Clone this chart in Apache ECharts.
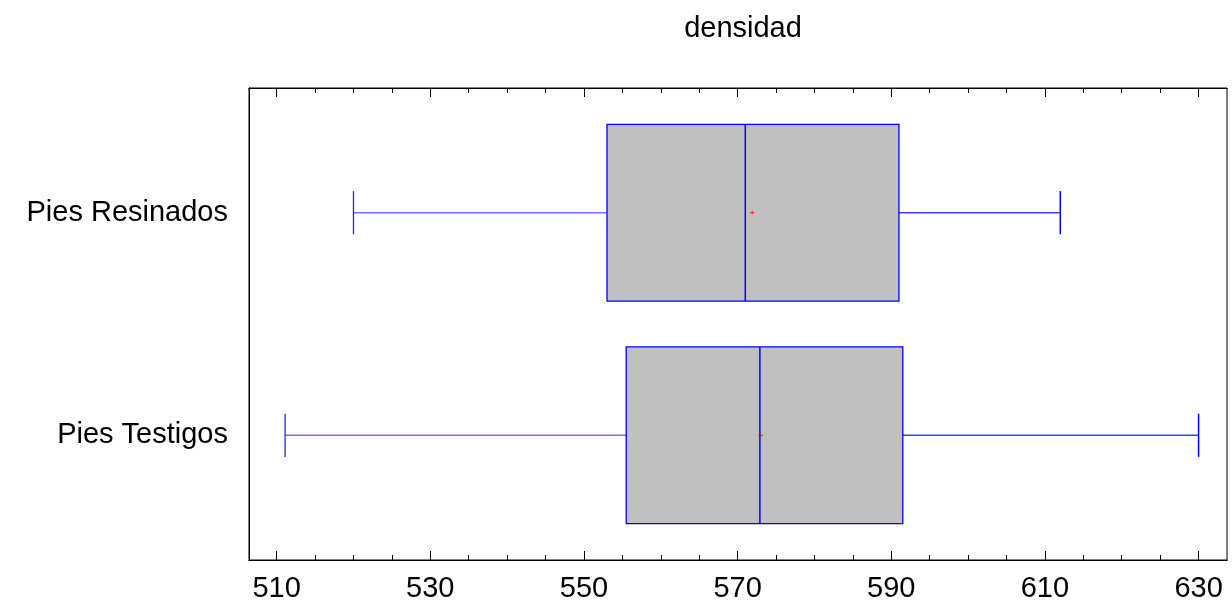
<!DOCTYPE html>
<html>
<head>
<meta charset="utf-8">
<script src="https://cdn.jsdelivr.net/npm/echarts@6/dist/echarts.min.js"></script>
<style>
  html, body { margin: 0; padding: 0; background: #fff; }
  #chart { width: 1232px; height: 604px; }
</style>
</head>
<body>
<div id="chart"></div>
<script>
const categories = ['Pies Resinados', 'Pies Testigos']
const minVals = [520, 511.1]
const q1Vals = [553, 555.5]
const medianVals = [571, 572.9]
const q3Vals = [591, 591.5]
const maxVals = [612, 630]
const meanVals = [571.9, 573]
const majorTicks = [510, 530, 550, 570, 590, 610, 630]
const minorTicks = []
for (let v = 510; v <= 630; v += 5) minorTicks.push(v)

const boxData = categories.map((c, i) => [i, minVals[i], q1Vals[i], medianVals[i], q3Vals[i], maxVals[i], meanVals[i]])

const font = 'Liberation Sans, Arial, sans-serif'

function renderBox(params, api) {
    const idx = api.value(0)
    const lo = api.coord([api.value(1), idx])
    const q1 = api.coord([api.value(2), idx])
    const med = api.coord([api.value(3), idx])
    const q3 = api.coord([api.value(4), idx])
    const hi = api.coord([api.value(5), idx])
    const mean = api.coord([api.value(6), idx])
    const unit = api.size([0, 1])[1]
    const halfBox = unit * 0.397
    const halfCap = unit * 0.097
    const y = lo[1]
    const blue = '#0000ff'
    return {
        type: 'group',
        children: [
            // whiskers
            { type: 'line', shape: { x1: lo[0], y1: y, x2: q1[0], y2: y }, style: { stroke: blue, lineWidth: 1.6, opacity: 0.55 } },
            { type: 'line', shape: { x1: q3[0], y1: y, x2: hi[0], y2: y }, style: { stroke: blue, lineWidth: 1.6, opacity: 0.75 } },
            { type: 'line', shape: { x1: lo[0], y1: y - halfCap, x2: lo[0], y2: y + halfCap }, style: { stroke: blue, lineWidth: 1.3, opacity: 0.85 } },
            { type: 'line', shape: { x1: hi[0], y1: y - halfCap, x2: hi[0], y2: y + halfCap }, style: { stroke: blue, lineWidth: 1.5 } },
            // box + median
            { type: 'rect', shape: { x: q1[0], y: y - halfBox, width: q3[0] - q1[0], height: halfBox * 2 }, style: { fill: '#c0c0c0', stroke: blue, lineWidth: 1.3, opacity: 1 } },
            { type: 'line', shape: { x1: med[0], y1: y - halfBox, x2: med[0], y2: y + halfBox }, style: { stroke: blue, lineWidth: 1.5 } },
            // mean marker
            { type: 'line', shape: { x1: mean[0] - 2.5, y1: y, x2: mean[0] + 2.5, y2: y }, style: { stroke: '#ff0000', lineWidth: 1, opacity: 0.7 } },
            { type: 'line', shape: { x1: mean[0], y1: y - 2, x2: mean[0], y2: y + 2 }, style: { stroke: '#ff0000', lineWidth: 1, opacity: 0.7 } }
        ]
    }
}

const xMin = 506.4
const xMax = 633.7

function xAxisDef(pos, ticks, len, labels) {
    return {
        type: 'value',
        position: pos,
        min: xMin,
        max: xMax,
        axisLine: { show: true, onZero: false, lineStyle: { color: '#000', width: 1 } },
        axisTick: { show: true, inside: true, length: len, customValues: ticks, lineStyle: { color: '#000', width: 1 } },
        axisLabel: labels ? { show: true, customValues: majorTicks, color: '#000', fontSize: 29, fontFamily: font, margin: 14 } : { show: false },
        splitLine: { show: false }
    }
}

const chart = echarts.init(document.getElementById('chart'))
chart.setOption({
    backgroundColor: '#fff',
    animation: false,
    title: {
        text: 'densidad',
        left: 738,
        textAlign: 'center',
        top: 9,
        textStyle: { fontSize: 29, fontWeight: 'normal', color: '#000', fontFamily: font }
    },
    grid: { left: 249, right: 5, top: 88, bottom: 44, show: true, borderColor: '#000', borderWidth: 1, backgroundColor: 'transparent' },
    xAxis: [
        xAxisDef('bottom', majorTicks, 9, true),
        xAxisDef('bottom', minorTicks, 5, false),
        xAxisDef('top', majorTicks, 9, false),
        xAxisDef('top', minorTicks, 5, false)
    ],
    yAxis: {
        type: 'value',
        min: -0.56,
        max: 1.56,
        inverse: true,
        axisLine: { show: true, onZero: false, lineStyle: { color: '#000' } },
        axisTick: { show: false },
        splitLine: { show: false },
        axisLabel: {
            customValues: [0, 1],
            formatter: v => categories[Math.round(v)],
            color: '#000', fontSize: 29, fontFamily: font, margin: 21
        }
    },
    series: [{
        type: 'custom',
        renderItem: renderBox,
        encode: { x: [1, 2, 3, 4, 5, 6], y: 0 },
        data: boxData,
        clip: false
    }]
})
</script>
</body>
</html>
